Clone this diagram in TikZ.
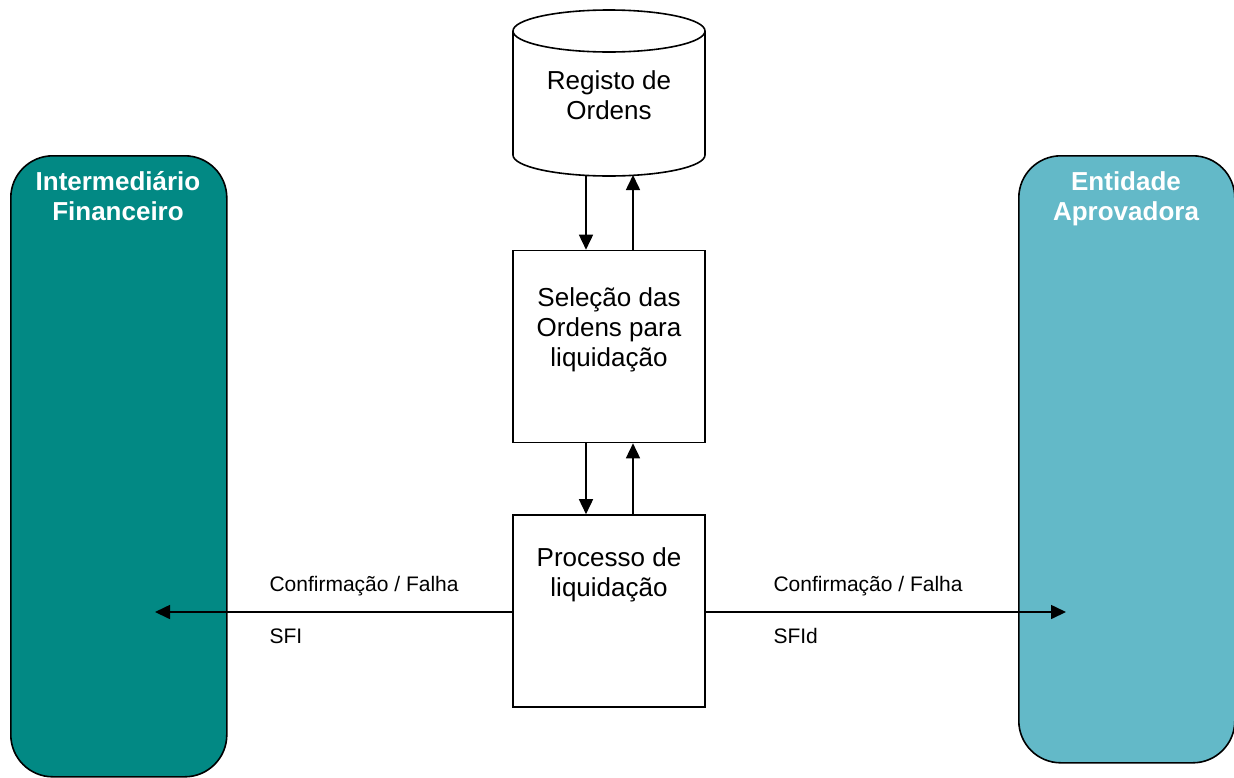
\documentclass[tikz,border=0pt]{standalone}
\usepackage{fontspec}
\setmainfont{Liberation Sans}
\usetikzlibrary{arrows.meta}
\definecolor{tealL}{RGB}{2,137,132}
\definecolor{tealR}{RGB}{99,185,200}
\begin{document}
\begin{tikzpicture}[x=1pt,y=-1pt,
  outline/.style={draw=black,line width=1.6pt},
  procbox/.style={outline,fill=white,minimum width=192pt,minimum height=192pt,inner sep=0pt},
  entity/.style={outline,rounded corners=42pt,minimum width=216pt,inner sep=0pt},
  bigtxt/.style={font=\fontsize{26}{30}\selectfont,align=center},
  boldtxt/.style={font=\fontsize{26}{30}\selectfont\bfseries,align=center,text=white},
  smalltxt/.style={font=\fontsize{21}{25}\selectfont,anchor=west},
  conn/.style={line width=1.6pt,-{Triangle[length=15pt,width=14pt]}}]
\useasboundingbox (0,0) rectangle (1234,777);
% entities
\node[entity,fill=tealL,minimum height=621pt,anchor=north west] (fi) at (10,155) {};
\node[entity,fill=tealR,minimum height=607pt,anchor=north west] (ea) at (1018,155) {};
\node[boldtxt] (fitxt) at (118,196) {Intermediário\\Financeiro};
\node[boldtxt] (eatxt) at (1126,199) {Entidade\\Aprovadora};
% cylinder
\fill[white] (513,31) -- (513,155) arc[start angle=180,end angle=0,x radius=96,y radius=21] -- (705,31) -- cycle;
\draw[line width=1.6pt] (513,31) -- (513,155) arc[start angle=180,end angle=0,x radius=96,y radius=21] -- (705,31);
\draw[line width=1.6pt] (609,31) ellipse[x radius=96,y radius=21];
\node[inner sep=0pt,minimum width=192pt,minimum height=152pt] (db) at (609,100) {};
\node[bigtxt] (dbtxt) at (609,95) {Registo de\\Ordens};
% process boxes
\node[procbox] (sel) at (609,346.5) {};
\node[bigtxt] (seltxt) at (609,330) {Seleção das\\Ordens para\\liquidação};
\node[procbox] (proc) at (609,611) {};
\node[bigtxt] (proctxt) at (609,575) {Processo de\\liquidação};
% vertical arrows
\coordinate (dbA) at (586,175.5);
\coordinate (dbB) at (633,175);
\draw[conn] (dbA) -- (sel.north -| dbA);
\draw[conn] (sel.north -| dbB) -- (dbB);
\draw[conn] (sel.south -| dbA) -- (proc.north -| dbA);
\draw[conn] (proc.north -| dbB) -- (sel.south -| dbB);
% horizontal arrows
\coordinate (lt) at (155,612);
\coordinate (rt) at (1066,612);
\draw[conn] (proc.west |- lt) -- (lt);
\draw[conn] (proc.east |- rt) -- (rt);
\node[smalltxt] (l1) at (266,586) {Confirmação / Falha};
\node[smalltxt] (l2) at (266,636) {SFI};
\node[smalltxt] (r1) at (770,586) {Confirmação / Falha};
\node[smalltxt] (r2) at (770,636) {SFId};
\end{tikzpicture}
\end{document}
